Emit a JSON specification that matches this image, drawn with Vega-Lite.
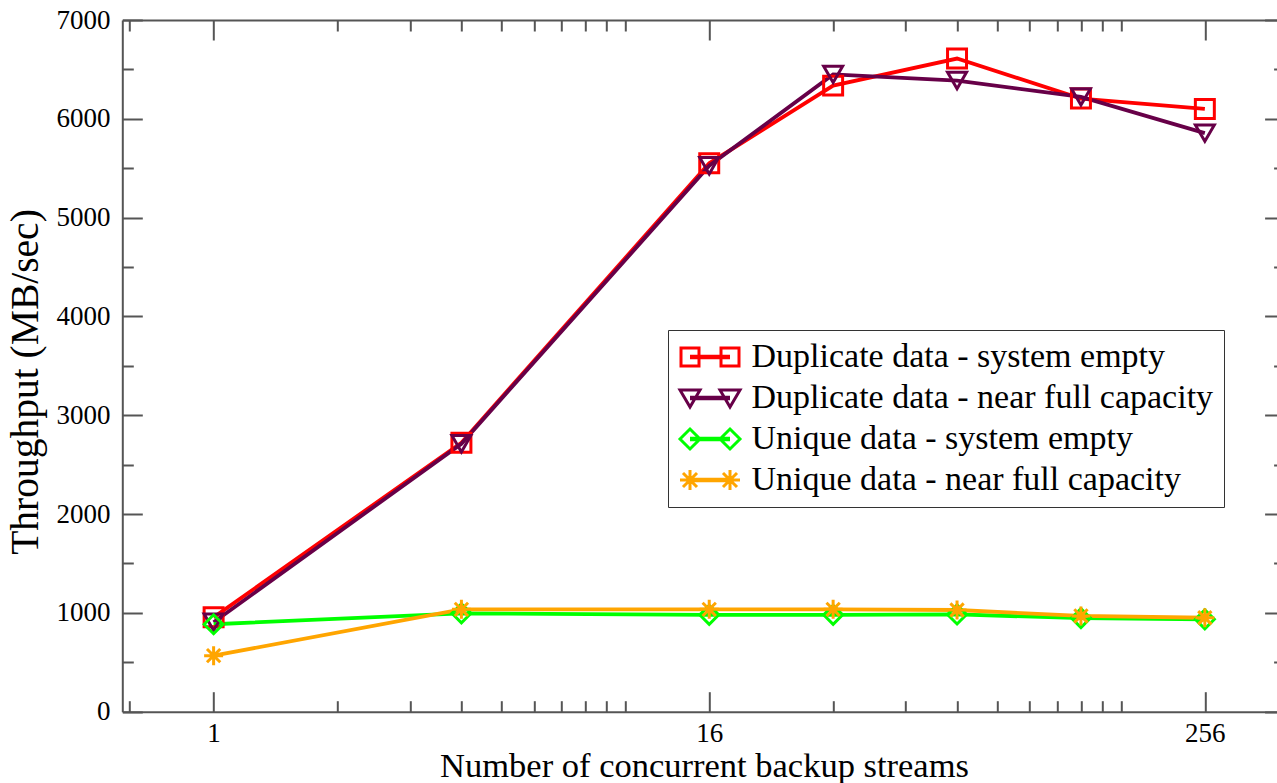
{
  "$schema": "https://vega.github.io/schema/vega-lite/v6.json",
  "width": 1154.7,
  "height": 691.7,
  "autosize": {"type": "none"},
  "padding": {"left": 122.3, "top": 20, "right": 0, "bottom": 71.3},
  "background": "white",
  "config": {"view": {"stroke": null}, "font": "Liberation Serif"},
  "datasets": {
    "series": [
      {"s": "Duplicate data - system empty", "x": 1, "y": 955},
      {"s": "Duplicate data - system empty", "x": 4, "y": 2722},
      {"s": "Duplicate data - system empty", "x": 16, "y": 5550},
      {"s": "Duplicate data - system empty", "x": 32, "y": 6336},
      {"s": "Duplicate data - system empty", "x": 64, "y": 6610},
      {"s": "Duplicate data - system empty", "x": 128, "y": 6205},
      {"s": "Duplicate data - system empty", "x": 256, "y": 6100},
      {"s": "Duplicate data - near full capacity", "x": 1, "y": 905},
      {"s": "Duplicate data - near full capacity", "x": 4, "y": 2712},
      {"s": "Duplicate data - near full capacity", "x": 16, "y": 5525},
      {"s": "Duplicate data - near full capacity", "x": 32, "y": 6450},
      {"s": "Duplicate data - near full capacity", "x": 64, "y": 6387},
      {"s": "Duplicate data - near full capacity", "x": 128, "y": 6222},
      {"s": "Duplicate data - near full capacity", "x": 256, "y": 5855},
      {"s": "Unique data - system empty", "x": 1, "y": 885},
      {"s": "Unique data - system empty", "x": 4, "y": 996},
      {"s": "Unique data - system empty", "x": 16, "y": 980},
      {"s": "Unique data - system empty", "x": 32, "y": 980},
      {"s": "Unique data - system empty", "x": 64, "y": 984},
      {"s": "Unique data - system empty", "x": 128, "y": 947},
      {"s": "Unique data - system empty", "x": 256, "y": 935},
      {"s": "Unique data - near full capacity", "x": 1, "y": 567},
      {"s": "Unique data - near full capacity", "x": 4, "y": 1036},
      {"s": "Unique data - near full capacity", "x": 16, "y": 1036},
      {"s": "Unique data - near full capacity", "x": 32, "y": 1036},
      {"s": "Unique data - near full capacity", "x": 64, "y": 1029},
      {"s": "Unique data - near full capacity", "x": 128, "y": 969},
      {"s": "Unique data - near full capacity", "x": 256, "y": 951}
    ]
  },
  "data": {"name": "series"},
  "layer": [
    {
      "mark": {"type": "point", "opacity": 0, "size": 1},
      "encoding": {
        "x": {
          "field": "x", "type": "quantitative",
          "scale": {"type": "log", "domain": [0.6, 383.3], "nice": false, "zero": false},
          "axis": {
            "orient": "bottom",
            "values": [0.625, 2, 3, 4, 5, 6, 7, 8, 9, 10, 32, 48, 64, 80, 96, 112, 128, 144, 160],
            "labels": false, "title": null, "domain": false, "grid": false,
            "tickSize": -11, "tickColor": "#555", "tickWidth": 2
          }
        },
        "y": {
          "field": "y", "type": "quantitative",
          "scale": {"domain": [0, 7000], "nice": false},
          "axis": {
            "orient": "left",
            "values": [500, 1500, 2500, 3500, 4500, 5500, 6500],
            "labels": false, "title": null, "domain": false, "grid": false,
            "tickSize": -11, "tickColor": "#555", "tickWidth": 2
          }
        }
      }
    },
    {
      "mark": {"type": "point", "opacity": 0, "size": 1},
      "encoding": {
        "x": {
          "field": "x", "type": "quantitative",
          "scale": {"type": "log", "domain": [0.6, 383.3], "nice": false, "zero": false},
          "axis": {
            "orient": "top",
            "values": [0.625, 2, 3, 4, 5, 6, 7, 8, 9, 10, 32, 48, 64, 80, 96, 112, 128, 144, 160],
            "labels": false, "title": null, "domain": false, "grid": false,
            "tickSize": -11, "tickColor": "#555", "tickWidth": 2
          }
        },
        "y": {
          "field": "y", "type": "quantitative",
          "scale": {"domain": [0, 7000], "nice": false},
          "axis": {
            "orient": "right", "offset": 7.6,
            "values": [500, 1500, 2500, 3500, 4500, 5500, 6500],
            "labels": false, "title": null, "domain": false, "grid": false,
            "tickSize": -11, "tickColor": "#555", "tickWidth": 2
          }
        }
      }
    },
    {
      "mark": {"type": "line", "strokeWidth": 3.8},
      "encoding": {
        "x": {
          "field": "x", "type": "quantitative",
          "scale": {"type": "log", "domain": [0.6, 383.3], "nice": false, "zero": false},
          "axis": {
            "orient": "bottom",
            "values": [1, 16, 256],
            "labelExpr": "format(datum.value, 'd')",
            "labelOverlap": false, "labelFlush": false, "labelBound": false,
            "labelFont": "Liberation Serif", "labelFontSize": 27, "labelColor": "black",
            "labelBaseline": "alphabetic", "labelPadding": 50,
            "tickSize": -20, "tickColor": "#555", "tickWidth": 2,
            "domainColor": "#555", "domainWidth": 2, "grid": false,
            "title": "Number of concurrent backup streams",
            "titleFont": "Liberation Serif", "titleFontSize": 34.5, "titleFontWeight": "normal", "titleColor": "black",
            "titleX": 581.7, "titleY": 65, "titleBaseline": "alphabetic", "titleAlign": "center"
          }
        },
        "y": {
          "field": "y", "type": "quantitative",
          "scale": {"domain": [0, 7000], "nice": false},
          "axis": {
            "orient": "left",
            "values": [0, 1000, 2000, 3000, 4000, 5000, 6000, 7000],
            "format": "d",
            "labelOverlap": false, "labelFlush": false, "labelBound": false,
            "labelFont": "Liberation Serif", "labelFontSize": 27, "labelColor": "black",
            "labelBaseline": "middle", "labelPadding": 32.3,
            "tickSize": -20, "tickColor": "#555", "tickWidth": 2,
            "domainColor": "#555", "domainWidth": 2, "grid": false,
            "title": "Throughput (MB/sec)",
            "titleFont": "Liberation Serif", "titleFontSize": 39.5, "titleFontWeight": "normal", "titleColor": "black",
            "titleAngle": 270, "titleX": -85, "titleY": 361.5, "titleBaseline": "alphabetic", "titleAlign": "center"
          }
        },
        "stroke": {
          "field": "s", "type": "nominal",
          "scale": {
            "domain": ["Unique data - near full capacity", "Unique data - system empty", "Duplicate data - near full capacity", "Duplicate data - system empty"],
            "range": ["#ffa500", "#00ff00", "#670048", "#ff0000"]
          },
          "legend": null
        }
      }
    },
    {
      "mark": {"type": "point", "filled": false, "strokeWidth": 3, "opacity": 1, "size": 360},
      "encoding": {
        "x": {
          "field": "x", "type": "quantitative",
          "scale": {"type": "log", "domain": [0.6, 383.3], "nice": false, "zero": false},
          "axis": {
            "orient": "top",
            "values": [1, 16, 256],
            "labels": false, "title": null,
            "tickSize": -20, "tickColor": "#555", "tickWidth": 2,
            "domainColor": "#555", "domainWidth": 2, "grid": false
          }
        },
        "y": {
          "field": "y", "type": "quantitative",
          "scale": {"domain": [0, 7000], "nice": false},
          "axis": {
            "orient": "right", "offset": 7.6,
            "values": [0, 1000, 2000, 3000, 4000, 5000, 6000, 7000],
            "labels": false, "title": null,
            "tickSize": -20, "tickColor": "#555", "tickWidth": 2,
            "domainColor": "#555", "domainWidth": 2, "grid": false
          }
        },
        "color": {
          "field": "s", "type": "nominal",
          "scale": {
            "domain": ["Duplicate data - system empty", "Duplicate data - near full capacity", "Unique data - system empty", "Unique data - near full capacity"],
            "range": ["#ff0000", "#670048", "#00ff00", "#ffa500"]
          },
          "legend": {
            "title": null, "orient": "none", "legendX": 545.7, "legendY": 310, "direction": "vertical",
            "fillColor": "white", "strokeColor": "#333", "padding": 10,
            "symbolSize": 400, "symbolStrokeWidth": 3, "symbolFillColor": "transparent",
            "symbolType": {"expr": "datum.value === 'Duplicate data - system empty' ? 'M-1.4,-0.9H0.4V0.9H-1.4ZM-0.5,-0.08H3.5M-0.5,0.08H3.5M2.6,-0.9H4.4V0.9H2.6Z' : datum.value === 'Duplicate data - near full capacity' ? 'M-1.5,-0.8H0.5L-0.5,0.9ZM-0.5,-0.08H3.5M-0.5,0.08H3.5M2.5,-0.8H4.5L3.5,0.9Z' : datum.value === 'Unique data - system empty' ? 'M-1.5,0L-0.5,-1L0.5,0L-0.5,1ZM-0.5,-0.08H3.5M-0.5,0.08H3.5M2.5,0L3.5,-1L4.5,0L3.5,1Z' : 'M-1.5,0H0.5M-0.5,-1V1M-1.2,-0.7L0.2,0.7M-1.2,0.7L0.2,-0.7M-0.5,-0.08H3.5M-0.5,0.08H3.5M2.5,0H4.5M3.5,-1V1M2.8,-0.7L4.2,0.7M2.8,0.7L4.2,-0.7'"},
            "labelFont": "Liberation Serif", "labelFontSize": 34, "labelColor": "black",
            "labelOffset": 39.5, "labelLimit": 1000, "rowPadding": 7
          }
        },
        "shape": {
          "field": "s", "type": "nominal",
          "scale": {
            "domain": ["Unique data - near full capacity", "Duplicate data - system empty", "Duplicate data - near full capacity", "Unique data - system empty"],
            "range": ["M-1,0H1M0,-1V1M-0.7,-0.7L0.7,0.7M-0.7,0.7L0.7,-0.7", "square", "triangle-down", "diamond"]
          },
          "legend": null
        }
      }
    }
  ],
  "resolve": {"axis": {"x": "independent", "y": "independent"}}
}
